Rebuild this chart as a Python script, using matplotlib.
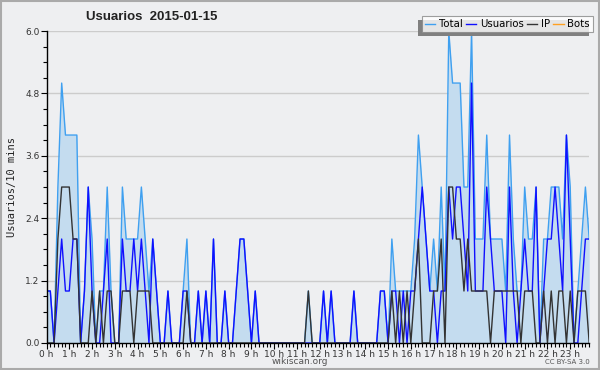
import matplotlib
matplotlib.use("Agg")
import matplotlib.pyplot as plt
from matplotlib.patches import Rectangle
from matplotlib.ticker import MultipleLocator, FormatStrFormatter

# 10-minute slots over the day (144 values)
usuarios = [1, 1, 0, 1, 2, 1, 1, 2, 2, 0,
            1, 3, 1, 0, 0, 1, 2, 0, 0, 0,
            2, 1, 1, 2, 1, 2, 1, 0, 2, 1,
            0, 0, 1, 0, 0, 0, 1, 1, 0, 0,
            1, 0, 1, 0, 2, 0, 0, 1, 0, 0,
            1, 2, 2, 1, 0, 1, 0, 0, 0, 0,
            0, 0, 0, 0, 0, 0, 0, 0, 0, 0,
            0, 0, 0, 1, 0, 1, 0, 0, 0, 0,
            0, 1, 0, 0, 0, 0, 0, 0, 1, 1,
            0, 1, 1, 0, 1, 0, 1, 1, 2, 3,
            2, 1, 1, 0, 1, 1, 3, 2, 3, 3,
            2, 1, 5, 1, 1, 1, 3, 2, 1, 1,
            1, 0, 3, 1, 0, 1, 2, 1, 1, 3,
            0, 1, 2, 2, 3, 2, 1, 4, 2, 0,
            0, 1, 2, 2]

ip = [0, 0, 0, 2, 3, 3, 3, 2, 2, 0,
      0, 0, 1, 0, 1, 0, 1, 1, 0, 0,
      1, 1, 1, 0, 1, 1, 1, 1, 0, 0,
      0, 0, 0, 0, 0, 0, 0, 1, 0, 0,
      0, 0, 0, 0, 0, 0, 0, 0, 0, 0,
      0, 0, 0, 0, 0, 0, 0, 0, 0, 0,
      0, 0, 0, 0, 0, 0, 0, 0, 0, 1,
      0, 0, 0, 0, 0, 0, 0, 0, 0, 0,
      0, 0, 0, 0, 0, 0, 0, 0, 0, 0,
      0, 1, 0, 1, 0, 1, 0, 1, 2, 0,
      0, 0, 1, 1, 2, 0, 3, 3, 2, 2,
      1, 2, 1, 1, 1, 1, 1, 0, 1, 1,
      1, 1, 1, 1, 1, 0, 1, 1, 1, 0,
      0, 1, 0, 1, 0, 1, 1, 0, 1, 0,
      1, 1, 1, 0]

total = [1, 1, 0, 3, 5, 4, 4, 4, 4, 0,
         1, 3, 2, 0, 1, 1, 3, 1, 0, 0,
         3, 2, 2, 2, 2, 3, 2, 1, 2, 1,
         0, 0, 1, 0, 0, 0, 1, 2, 0, 0,
         1, 0, 1, 0, 2, 0, 0, 1, 0, 0,
         1, 2, 2, 1, 0, 1, 0, 0, 0, 0,
         0, 0, 0, 0, 0, 0, 0, 0, 0, 1,
         0, 0, 0, 1, 0, 1, 0, 0, 0, 0,
         0, 1, 0, 0, 0, 0, 0, 0, 1, 1,
         0, 2, 1, 1, 1, 1, 1, 2, 4, 3,
         2, 1, 2, 1, 3, 1, 6, 5, 5, 5,
         3, 3, 6, 2, 2, 2, 4, 2, 2, 2,
         2, 1, 4, 2, 1, 1, 3, 2, 2, 3,
         0, 2, 2, 3, 3, 3, 2, 4, 3, 0,
         1, 2, 3, 2]

bots = [0] * 144

hour_labels = ["%d h" % h for h in range(24)]
title = "Usuarios  2015-01-15"

bg = "#eeeff1"
c_total = "#3fa0f0"
c_fill = "#c4dcef"
c_users = "#1010ff"
c_ip = "#333333"
c_bots = "#ffa020"

fig = plt.figure(figsize=(6, 3.7), dpi=100, facecolor=bg)
ax = fig.add_axes([0.0775, 0.073, 0.9045, 0.843])
ax.set_facecolor(bg)

x = list(range(len(total)))
ax.fill_between(x, total, 0, color=c_fill, lw=0, zorder=1)
ax.plot(x, bots, color=c_bots, lw=1.0, zorder=0.5, label="Bots")
ax.plot(x, total, color=c_total, lw=1.0, zorder=2, label="Total")
ax.plot(x, usuarios, color=c_users, lw=1.0, zorder=3, label="Usuarios")
ax.plot(x, ip, color=c_ip, lw=1.0, zorder=4, label="IP")

ax.set_xlim(0, 143)
ax.set_ylim(0, 6)
ax.yaxis.set_major_locator(MultipleLocator(1.2))
ax.yaxis.set_minor_locator(MultipleLocator(0.3))
ax.yaxis.set_major_formatter(FormatStrFormatter("%.1f"))
ax.set_xticks(range(0, 144, 6))
ax.set_xticklabels(hour_labels)
ax.xaxis.set_minor_locator(MultipleLocator(1))

ax.tick_params(axis="both", which="major", labelsize=6.5, colors="#000000",
               labelcolor="#333333", length=4, width=0.8, pad=1)
ax.tick_params(axis="both", which="minor", length=3, width=0.8)
ax.grid(axis="y", which="major", color="#cccccc", lw=1.0, zorder=0)
ax.set_axisbelow(True)
for s in ["top", "right"]:
    ax.spines[s].set_visible(False)
for s in ["left", "bottom"]:
    ax.spines[s].set_color("#000000")
    ax.spines[s].set_linewidth(1.0)
    ax.spines[s].set_zorder(5)

ax.set_ylabel("Usuarios/10 mins", family="DejaVu Sans Mono", fontsize=7.5,
              color="#222222", labelpad=6)

fig.text(0.252, 0.953, title, ha="center", va="center", fontsize=9.5,
         fontweight="bold", family="Liberation Sans", color="#222222")
fig.text(0.5, 0.022, "wikiscan.org", ha="center", va="center", fontsize=6.5,
         color="#555555")
fig.text(0.983, 0.022, "CC BY-SA 3.0", ha="right", va="center", fontsize=5,
         color="#555555")

# legend in the order of the reference
h = {l.get_label(): l for l in ax.get_lines()}
order = ["Total", "Usuarios", "IP", "Bots"]
leg = fig.legend([h[k] for k in order], order, ncol=4, loc="upper right",
                 bbox_to_anchor=(0.988, 0.956), fontsize=7.3, frameon=True,
                 fancybox=False, handlelength=1.0, handletextpad=0.35,
                 columnspacing=0.35, borderpad=0.3, borderaxespad=0)
leg.get_frame().set_edgecolor("#888888")
leg.get_frame().set_linewidth(0.8)
leg.set_zorder(6)

fig.canvas.draw()
bb = leg.get_window_extent().transformed(fig.transFigure.inverted())
fig.patches.append(Rectangle((bb.x0 - 0.006, bb.y0 - 0.009), bb.width, bb.height,
                             transform=fig.transFigure, facecolor="#808080",
                             edgecolor="none", zorder=5))

# outer frame of the image
fig.patches.append(Rectangle((0.001, 0.002), 0.997, 0.996, transform=fig.transFigure,
                             fill=False, edgecolor="#aaaaaa", lw=1.5, zorder=10))

fig.savefig("out.png", dpi=100, facecolor=bg)
